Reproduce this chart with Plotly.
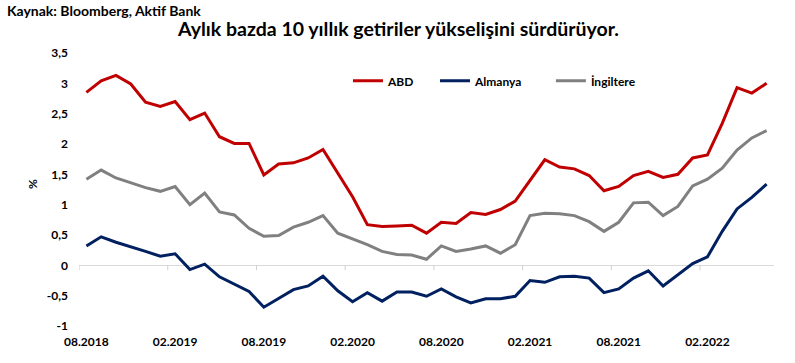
import plotly.graph_objects as go

months = []
m, y = 8, 2018
for _ in range(47):
    months.append(f"{m:02d}.{y}")
    m += 1
    if m > 12:
        m, y = 1, y + 1

abd = [2.85, 3.04, 3.13, 2.99, 2.69, 2.62, 2.70, 2.40,
       2.51, 2.12, 2.01, 2.01, 1.49, 1.67, 1.69, 1.77,
       1.91, 1.52, 1.13, 0.67, 0.64, 0.65, 0.66, 0.53,
       0.71, 0.69, 0.87, 0.84, 0.92, 1.06, 1.41, 1.74,
       1.62, 1.59, 1.48, 1.23, 1.30, 1.48, 1.55, 1.45,
       1.50, 1.77, 1.82, 2.34, 2.93, 2.84, 3.00]
almanya = [0.32, 0.47, 0.38, 0.31, 0.23, 0.15, 0.19, -0.07,
           0.02, -0.19, -0.31, -0.43, -0.69, -0.54, -0.40, -0.34,
           -0.18, -0.42, -0.60, -0.45, -0.59, -0.44, -0.44, -0.51,
           -0.39, -0.52, -0.62, -0.55, -0.55, -0.51, -0.25, -0.28,
           -0.19, -0.18, -0.21, -0.45, -0.39, -0.21, -0.09, -0.34,
           -0.15, 0.03, 0.14, 0.56, 0.93, 1.12, 1.34]
ingiltere = [1.42, 1.57, 1.44, 1.36, 1.28, 1.22, 1.30, 1.00,
             1.19, 0.88, 0.83, 0.61, 0.48, 0.49, 0.63, 0.71,
             0.82, 0.53, 0.44, 0.34, 0.23, 0.18, 0.17, 0.10,
             0.32, 0.23, 0.27, 0.32, 0.20, 0.34, 0.82, 0.86,
             0.85, 0.82, 0.72, 0.56, 0.71, 1.03, 1.04, 0.82,
             0.97, 1.31, 1.42, 1.60, 1.90, 2.10, 2.22]

series_names = ["ABD", "Almanya", "İngiltere"]
series_colors = ["#C00000", "#002060", "#808080"]
legend_ids = ["legend", "legend2", "legend3"]
legend_x = [0.387, 0.5122, 0.679]
ytick_vals = [3.5, 3, 2.5, 2, 1.5, 1, 0.5, 0, -0.5, -1]
ytick_text = ["3,5", "3", "2,5", "2", "1,5", "1", "0,5", "0", "-0,5", "-1"]
xtick_labels = months[::6]

FONT = "Lato"

fig = go.Figure()
for name, vals, col, lg in zip(series_names, [abd, almanya, ingiltere], series_colors, legend_ids):
    fig.add_trace(go.Scatter(x=months, y=vals, mode="lines", name=name, legend=lg,
                             line=dict(color=col, width=3)))

# tick marks on the zero line at category boundaries
for i in range(0, len(months) + 1, 6):
    fig.add_shape(type="line", xref="x", yref="y", x0=i - 0.5, x1=i - 0.5,
                  ysizemode="pixel", yanchor=0, y0=0, y1=-5,
                  line=dict(color="#d0d0d0", width=1))

legend_common = dict(orientation="h", y=0.898, xanchor="left", yanchor="middle",
                     font=dict(family=FONT, size=12, color="#000000", weight="bold"),
                     bgcolor="rgba(0,0,0,0)", itemwidth=30)

fig.update_layout(
    width=795, height=363,
    margin=dict(l=79, r=21, t=53, b=37, autoexpand=False),
    paper_bgcolor="white", plot_bgcolor="white",
    font=dict(family=FONT, size=12, color="#000000"),
    showlegend=True,
    legend=dict(x=legend_x[0], **legend_common),
    legend2=dict(x=legend_x[1], **legend_common),
    legend3=dict(x=legend_x[2], **legend_common),
    xaxis=dict(type="category", categoryorder="array", categoryarray=months,
               range=[-0.5, len(months) - 0.5], automargin=False,
               tickmode="array", tickvals=xtick_labels, ticktext=xtick_labels,
               showgrid=False, showline=False, ticks="", zeroline=False,
               tickangle=0, ticklabelstandoff=7,
               tickfont=dict(family=FONT, size=12, color="#000000", weight="bold")),
    yaxis=dict(range=[-1, 3.5], tickmode="array", tickvals=ytick_vals, ticktext=ytick_text,
               showgrid=False, showline=False, ticks="", automargin=False,
               zeroline=True, zerolinecolor="#d9d9d9", zerolinewidth=1,
               ticklabelstandoff=10,
               tickfont=dict(family=FONT, size=12, color="#000000", weight="bold")),
    annotations=[
        dict(text="<b>Kaynak: Bloomberg, Aktif Bank</b>", xref="paper", yref="paper",
             x=-0.106, y=1.157, xanchor="left", yanchor="middle", showarrow=False,
             font=dict(family=FONT, size=14, color="#000000")),
        dict(text="<b>Aylık bazda 10 yıllık getiriler yükselişini sürdürüyor.</b>",
             xref="paper", yref="paper", x=0.459, y=1.091, xanchor="center", yanchor="middle",
             showarrow=False, font=dict(family=FONT, size=19.5, color="#000000")),
        dict(text="<b>%</b>", xref="paper", yref="paper", x=-0.0676, y=0.52,
             xanchor="center", yanchor="middle", textangle=-90, showarrow=False,
             font=dict(family=FONT, size=12, color="#000000")),
    ],
)

fig.write_html("out.html", config={"displayModeBar": False},
               post_script="document.body.style.margin='0px';document.body.style.overflow='hidden';")
